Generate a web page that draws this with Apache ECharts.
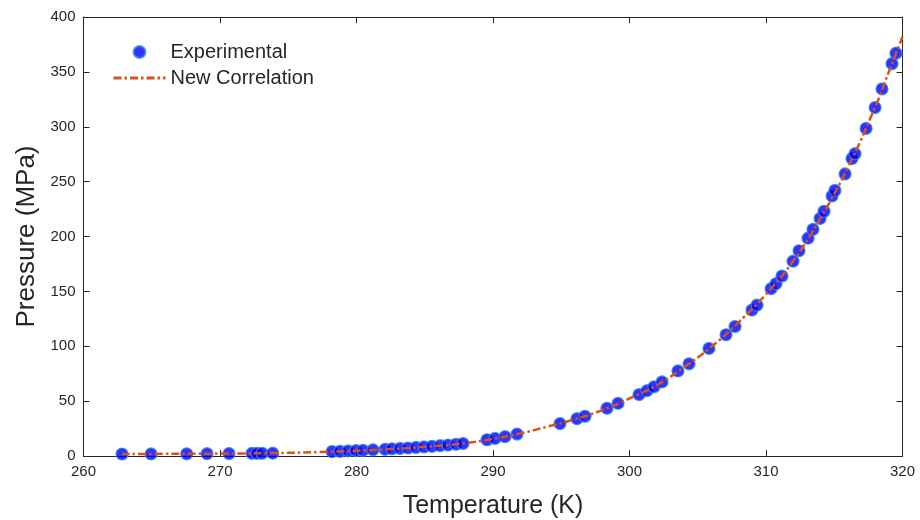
<!DOCTYPE html>
<html>
<head>
<meta charset="utf-8">
<script src="https://cdn.jsdelivr.net/npm/echarts@6/dist/echarts.min.js"></script>
<style>html,body{margin:0;padding:0;background:#fff;}#c{width:920px;height:520px;}</style>
</head>
<body>
<div id="c"></div>
<script>
// Experimental data: temperature (K) and pressure (MPa)
var expT = [262.82,264.95,267.56,269.05,270.66,272.34,272.71,273.08,273.86,
  278.21,278.79,279.38,279.96,280.48,281.21,282.09,282.60,283.19,283.77,284.36,284.95,285.53,286.12,286.70,287.29,287.80,
  289.56,290.15,290.88,291.76,294.91,296.15,296.74,298.35,299.16,300.70,301.28,301.79,302.38,303.55,304.36,305.82,
  307.07,307.73,308.97,309.34,310.37,310.73,311.17,311.98,312.42,313.08,313.44,313.96,314.25,314.84,315.05,315.79,
  316.30,316.52,317.33,317.99,318.50,319.23,319.52];
var expP = [1.8,1.9,2.0,2.1,2.2,2.4,2.4,2.5,2.6,
  4.0,4.3,4.6,4.9,5.2,5.6,6.1,6.5,6.9,7.3,7.8,8.3,8.8,9.4,10.0,10.7,11.4,
  14.8,16.0,17.6,20.0,29.5,34.0,36.2,43.5,48.0,56.0,59.5,63.0,67.5,77.5,84.0,98.0,
  110.5,118.0,133.0,137.5,152.5,157.0,164.0,177.5,187.0,198.5,206.5,216.5,223.0,237.0,242.0,257.0,
  271.0,275.5,298.5,317.5,334.5,357.5,367.0];
// New correlation curve
var corrT = [262.8,265,270,274,278,282,286,288,290,292,294,296,298,300,302,304,306,308,310,312,314,316,318,319,320];
var corrP = [1.8,1.9,2.2,2.7,3.9,6.0,9.3,11.8,15.6,20.6,26.8,33.5,41.8,52.5,64.5,81,99.5,122,147.5,178,217,263,318,350,382];
// Axis ticks
var xTicks = {min:260, max:320, step:10};
var yTicks = {min:0, max:400, step:50};

var expData = expT.map(function(t,i){return [t, expP[i]];});
var corrData = corrT.map(function(t,i){return [t, corrP[i]];});

var axisColor = '#262626';
var font = 'Liberation Sans, Arial, sans-serif';
var chart = echarts.init(document.getElementById('c'));
function xa(pos, show){
  return {type:'value', position:pos, min:xTicks.min, max:xTicks.max, interval:xTicks.step,
    axisLine:{show:true, onZero:false, lineStyle:{color:axisColor, width:1}},
    axisTick:{show:true, inside:true, length:6, lineStyle:{color:axisColor}},
    axisLabel:{show:show, color:'#262626', fontSize:15, fontFamily:font, margin:8},
    splitLine:{show:false},
    name: show ? 'Temperature (K)' : '', nameLocation:'middle', nameGap:38,
    nameTextStyle:{color:'#262626', fontSize:25, fontFamily:font}};
}
function ya(pos, show){
  return {type:'value', position:pos, min:yTicks.min, max:yTicks.max, interval:yTicks.step,
    axisLine:{show:true, onZero:false, lineStyle:{color:axisColor, width:1}},
    axisTick:{show:true, inside:true, length:6, lineStyle:{color:axisColor}},
    axisLabel:{show:show, color:'#262626', fontSize:15, fontFamily:font, margin:8},
    splitLine:{show:false},
    name: show ? 'Pressure (MPa)' : '', nameLocation:'middle', nameGap:43,
    nameTextStyle:{color:'#262626', fontSize:26, fontFamily:font}};
}
chart.setOption({
  animation:false,
  backgroundColor:'#fff',
  grid:{left:83.5, right:17.5, top:17, bottom:64, containLabel:false, outerBoundsMode:'none'},
  xAxis:[xa('bottom', true), xa('top', false)],
  yAxis:[ya('left', true), ya('right', false)],
  legend:{
    orient:'vertical', left:107, top:37, itemWidth:52, itemHeight:12, itemGap:6,
    textStyle:{color:'#262626', fontSize:20, fontFamily:font},
    lineStyle:{width:3},
    data:[{name:'Experimental'}, {name:'New Correlation', itemStyle:{opacity:0}}]
  },
  series:[
    {name:'Experimental', type:'scatter', data:expData, symbol:'circle', symbolSize:12, z:2,
     itemStyle:{color:'#0000f5', borderColor:'#2f86f0', borderWidth:1.2}},
    {name:'New Correlation', type:'line', data:corrData, smooth:true, symbol:'none', z:3,
     lineStyle:{color:'#D95319', width:2.5, type:[8,3,2.5,3]}, itemStyle:{color:'#D95319'}}
  ]
});
</script>
</body>
</html>
